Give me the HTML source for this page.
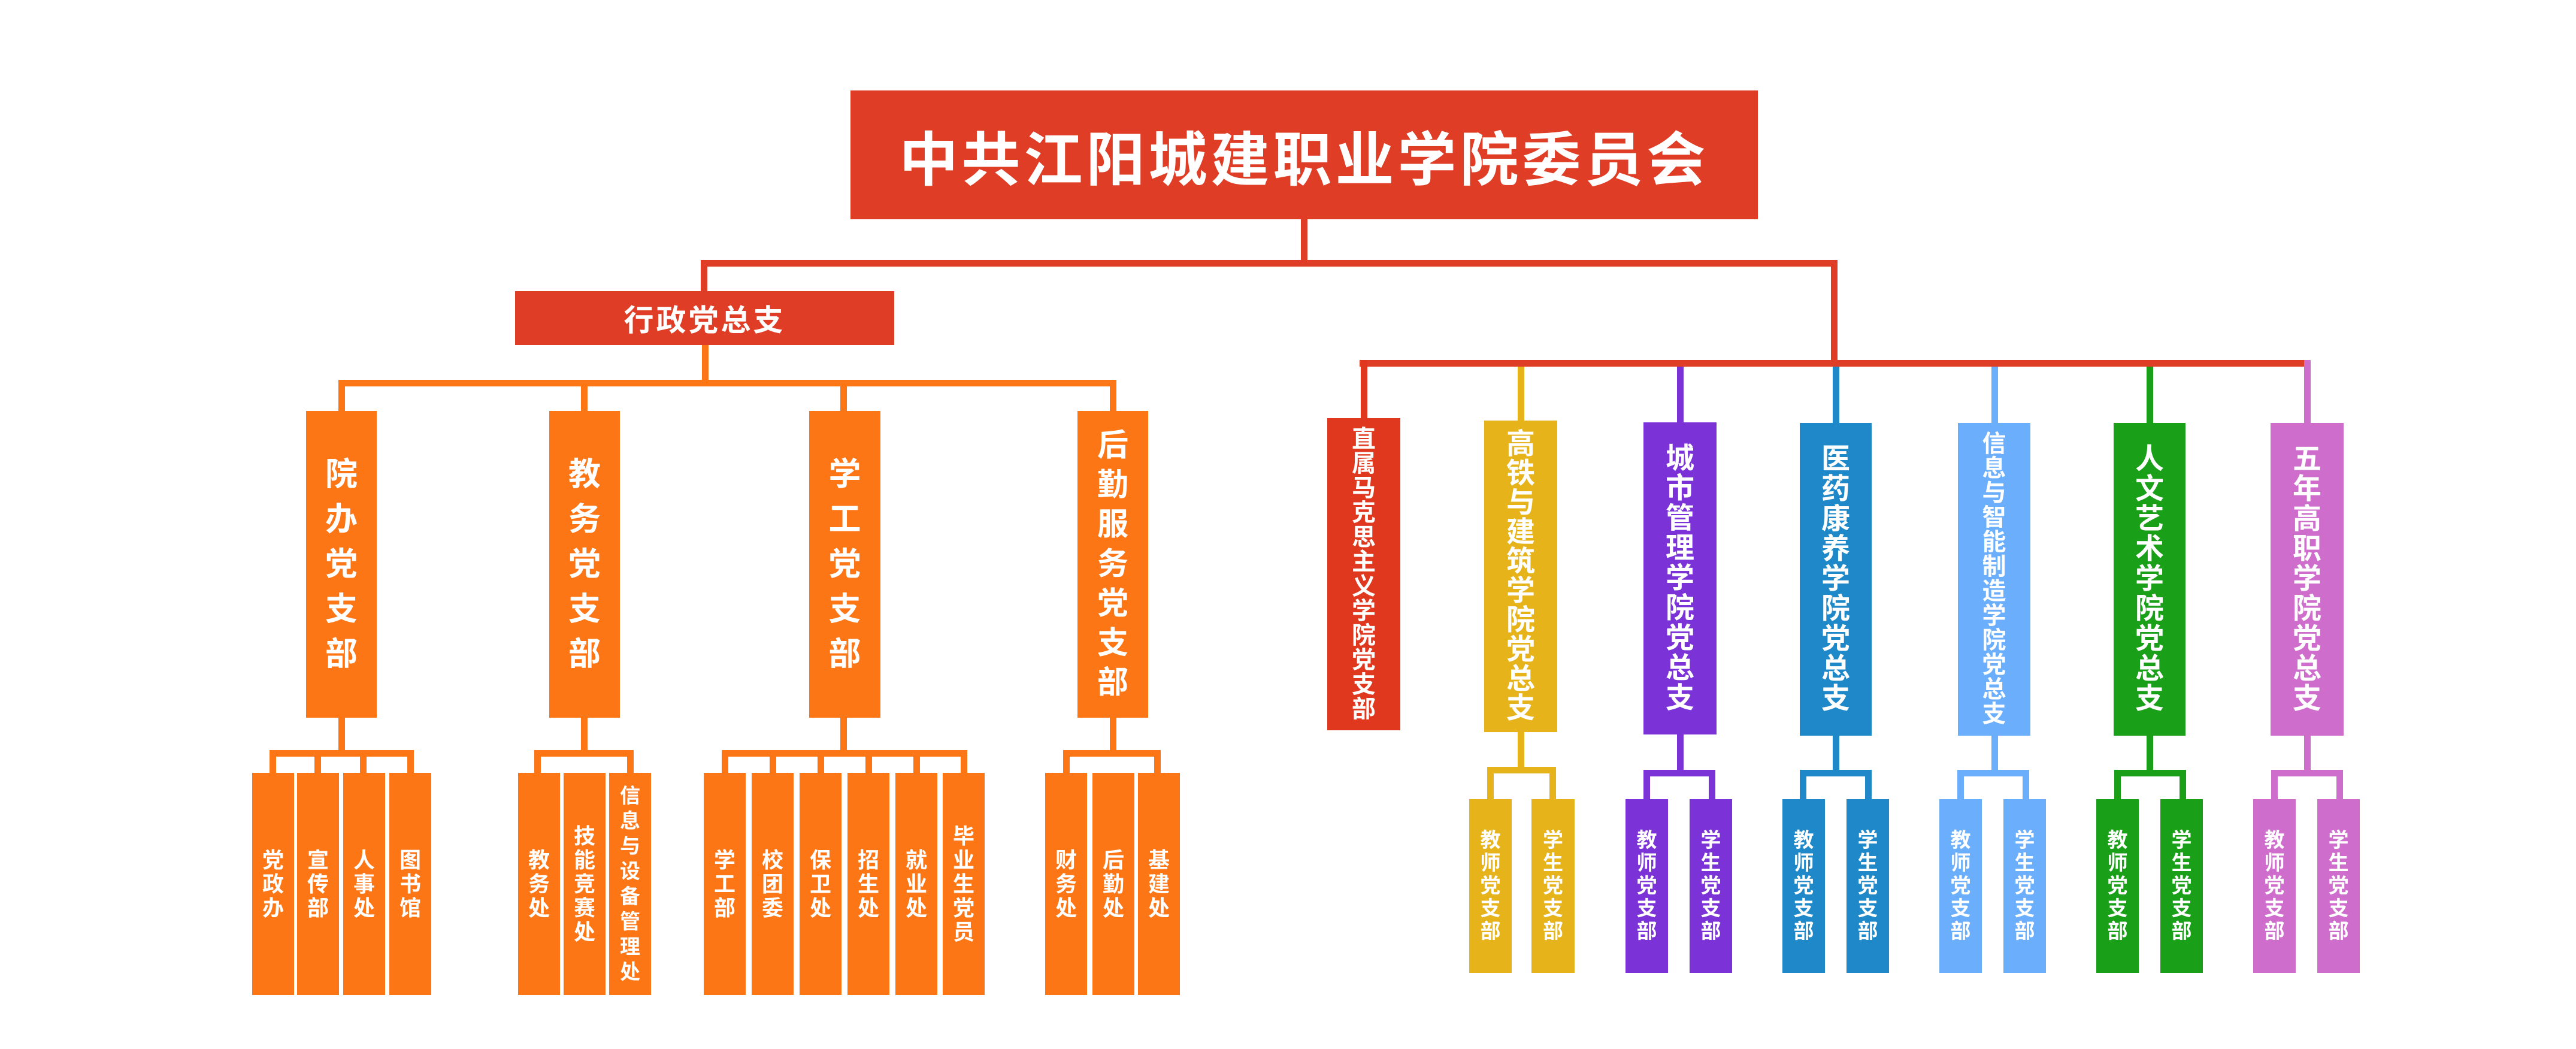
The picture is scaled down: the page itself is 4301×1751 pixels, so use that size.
<!DOCTYPE html>
<html><head><meta charset="utf-8"><style>
body{margin:0;width:4301px;height:1751px;background:#fff;position:relative;overflow:hidden;font-family:"Liberation Sans","Noto Sans CJK SC",sans-serif}
div{position:absolute;box-sizing:border-box}
.t{display:flex;align-items:center;justify-content:center;text-align:center;color:#fff;font-weight:bold}
.o{background:#fd7616}.r{background:#df3d25}
.y{background:#e6b31a}.p{background:#7b33d8}.bl{background:#1e88c8}.lb{background:#6aaefc}.g{background:#1a9f18}.pk{background:#cf6dcd}.rr{background:#e0371f}
.lc{font-size:36px;line-height:40px}
.rc{font-size:34px;line-height:38px}
.nd{font-size:48px}
</style></head><body>
<!-- top -->
<div class="t r" style="left:1420px;top:151px;width:1515px;height:215px;font-size:98px;letter-spacing:6px">中共江阳城建职业学院委员会</div>
<div class="r" style="left:2172px;top:366px;width:11px;height:79px"></div>
<div class="r" style="left:1170px;top:434px;width:1898px;height:11px"></div>
<div class="r" style="left:1170px;top:434px;width:11px;height:53px"></div>
<div class="t r" style="left:860px;top:486px;width:633px;height:90px;font-size:50px;letter-spacing:4px">行政党总支</div>
<!-- left branch -->
<div class="o" style="left:1172px;top:576px;width:11px;height:64px"></div>
<div class="o" style="left:565px;top:634px;width:1298px;height:11px"></div>
<div class="o" style="left:565px;top:634px;width:11px;height:52px"></div>
<div class="o" style="left:970px;top:634px;width:11px;height:52px"></div>
<div class="o" style="left:1403px;top:634px;width:11px;height:52px"></div>
<div class="o" style="left:1853px;top:634px;width:11px;height:52px"></div>
<div class="t o" style="left:511px;top:686px;width:118px;height:512px;font-size:54px;line-height:75px">院<br>办<br>党<br>支<br>部</div>
<div class="t o" style="left:917px;top:686px;width:118px;height:512px;font-size:54px;line-height:75px">教<br>务<br>党<br>支<br>部</div>
<div class="t o" style="left:1351px;top:686px;width:119px;height:512px;font-size:54px;line-height:75px">学<br>工<br>党<br>支<br>部</div>
<div class="t o" style="left:1799px;top:686px;width:118px;height:512px;font-size:52px;line-height:66px">后<br>勤<br>服<br>务<br>党<br>支<br>部</div>
<!-- group1 -->
<div class="o" style="left:565px;top:1198px;width:11px;height:62px"></div>
<div class="o" style="left:450px;top:1252px;width:241px;height:11px"></div>
<div class="o" style="left:450px;top:1252px;width:11px;height:40px"></div>
<div class="o" style="left:525px;top:1252px;width:11px;height:40px"></div>
<div class="o" style="left:601px;top:1252px;width:11px;height:40px"></div>
<div class="o" style="left:680px;top:1252px;width:11px;height:40px"></div>
<div class="t o lc" style="left:421px;top:1290px;width:70px;height:371px">党<br>政<br>办</div>
<div class="t o lc" style="left:496px;top:1290px;width:70px;height:371px">宣<br>传<br>部</div>
<div class="t o lc" style="left:573px;top:1290px;width:70px;height:371px">人<br>事<br>处</div>
<div class="t o lc" style="left:650px;top:1290px;width:70px;height:371px">图<br>书<br>馆</div>
<!-- group2 -->
<div class="o" style="left:970px;top:1198px;width:11px;height:62px"></div>
<div class="o" style="left:892px;top:1252px;width:166px;height:11px"></div>
<div class="o" style="left:892px;top:1252px;width:11px;height:40px"></div>
<div class="o" style="left:1047px;top:1252px;width:11px;height:40px"></div>
<div class="t o lc" style="left:865px;top:1290px;width:70px;height:371px">教<br>务<br>处</div>
<div class="t o lc" style="left:941px;top:1290px;width:70px;height:371px">技<br>能<br>竞<br>赛<br>处</div>
<div class="t o lc" style="left:1017px;top:1290px;width:70px;height:371px;font-size:34px;line-height:42px">信<br>息<br>与<br>设<br>备<br>管<br>理<br>处</div>
<!-- group3 -->
<div class="o" style="left:1403px;top:1198px;width:11px;height:62px"></div>
<div class="o" style="left:1205px;top:1252px;width:410px;height:11px"></div>
<div class="o" style="left:1205px;top:1252px;width:11px;height:40px"></div>
<div class="o" style="left:1285px;top:1252px;width:11px;height:40px"></div>
<div class="o" style="left:1365px;top:1252px;width:11px;height:40px"></div>
<div class="o" style="left:1445px;top:1252px;width:11px;height:40px"></div>
<div class="o" style="left:1525px;top:1252px;width:11px;height:40px"></div>
<div class="o" style="left:1604px;top:1252px;width:11px;height:40px"></div>
<div class="t o lc" style="left:1175px;top:1290px;width:70px;height:371px">学<br>工<br>部</div>
<div class="t o lc" style="left:1255px;top:1290px;width:70px;height:371px">校<br>团<br>委</div>
<div class="t o lc" style="left:1335px;top:1290px;width:70px;height:371px">保<br>卫<br>处</div>
<div class="t o lc" style="left:1415px;top:1290px;width:70px;height:371px">招<br>生<br>处</div>
<div class="t o lc" style="left:1495px;top:1290px;width:70px;height:371px">就<br>业<br>处</div>
<div class="t o lc" style="left:1574px;top:1290px;width:70px;height:371px">毕<br>业<br>生<br>党<br>员</div>
<!-- group4 -->
<div class="o" style="left:1853px;top:1198px;width:11px;height:62px"></div>
<div class="o" style="left:1775px;top:1252px;width:163px;height:11px"></div>
<div class="o" style="left:1775px;top:1252px;width:11px;height:40px"></div>
<div class="o" style="left:1927px;top:1252px;width:11px;height:40px"></div>
<div class="t o lc" style="left:1745px;top:1290px;width:70px;height:371px">财<br>务<br>处</div>
<div class="t o lc" style="left:1824px;top:1290px;width:70px;height:371px">后<br>勤<br>处</div>
<div class="t o lc" style="left:1900px;top:1290px;width:70px;height:371px">基<br>建<br>处</div>
<!-- right branch -->
<div class="r" style="left:3057px;top:434px;width:11px;height:178px"></div>
<div class="r" style="left:2270px;top:601px;width:1587px;height:11px"></div>
<div class="rr" style="left:2272px;top:601px;width:11px;height:98px"></div>
<div class="y" style="left:2534px;top:612px;width:11px;height:90px"></div>
<div class="p" style="left:2800px;top:612px;width:11px;height:93px"></div>
<div class="bl" style="left:3060px;top:612px;width:11px;height:94px"></div>
<div class="lb" style="left:3325px;top:612px;width:11px;height:94px"></div>
<div class="g" style="left:3584px;top:612px;width:11px;height:94px"></div>
<div class="pk" style="left:3847px;top:601px;width:11px;height:105px"></div>

<div class="t rr" style="left:2216px;top:698px;width:122px;height:521px;font-size:40px;line-height:41px">直<br>属<br>马<br>克<br>思<br>主<br>义<br>学<br>院<br>党<br>支<br>部</div>
<div class="t y nd" style="left:2478px;top:702px;width:122px;height:520px;line-height:49px">高<br>铁<br>与<br>建<br>筑<br>学<br>院<br>党<br>总<br>支</div>
<div class="t p nd" style="left:2744px;top:705px;width:122px;height:521px;line-height:50px">城<br>市<br>管<br>理<br>学<br>院<br>党<br>总<br>支</div>
<div class="t bl nd" style="left:3005px;top:706px;width:120px;height:522px;line-height:50px">医<br>药<br>康<br>养<br>学<br>院<br>党<br>总<br>支</div>
<div class="t lb" style="left:3269px;top:706px;width:121px;height:522px;font-size:40px;line-height:41px">信<br>息<br>与<br>智<br>能<br>制<br>造<br>学<br>院<br>党<br>总<br>支</div>
<div class="t g nd" style="left:3529px;top:706px;width:120px;height:522px;line-height:50px">人<br>文<br>艺<br>术<br>学<br>院<br>党<br>总<br>支</div>
<div class="t pk nd" style="left:3791px;top:706px;width:122px;height:522px;line-height:50px">五<br>年<br>高<br>职<br>学<br>院<br>党<br>总<br>支</div>

<!-- right subs -->
<div class="y" style="left:2534px;top:1222px;width:11px;height:65px"></div>
<div class="y" style="left:2483px;top:1280px;width:115px;height:11px"></div>
<div class="y" style="left:2483px;top:1280px;width:11px;height:55px"></div>
<div class="y" style="left:2587px;top:1280px;width:11px;height:55px"></div>
<div class="t y rc" style="left:2453px;top:1334px;width:71px;height:290px">教<br>师<br>党<br>支<br>部</div>
<div class="t y rc" style="left:2557px;top:1334px;width:72px;height:290px">学<br>生<br>党<br>支<br>部</div>

<div class="p" style="left:2800px;top:1226px;width:11px;height:65px"></div>
<div class="p" style="left:2744px;top:1285px;width:120px;height:11px"></div>
<div class="p" style="left:2744px;top:1285px;width:11px;height:50px"></div>
<div class="p" style="left:2853px;top:1285px;width:11px;height:50px"></div>
<div class="t p rc" style="left:2714px;top:1334px;width:71px;height:290px">教<br>师<br>党<br>支<br>部</div>
<div class="t p rc" style="left:2821px;top:1334px;width:71px;height:290px">学<br>生<br>党<br>支<br>部</div>

<div class="bl" style="left:3060px;top:1228px;width:11px;height:63px"></div>
<div class="bl" style="left:3005px;top:1285px;width:120px;height:11px"></div>
<div class="bl" style="left:3005px;top:1285px;width:11px;height:50px"></div>
<div class="bl" style="left:3114px;top:1285px;width:11px;height:50px"></div>
<div class="t bl rc" style="left:2976px;top:1334px;width:71px;height:290px">教<br>师<br>党<br>支<br>部</div>
<div class="t bl rc" style="left:3083px;top:1334px;width:71px;height:290px">学<br>生<br>党<br>支<br>部</div>

<div class="lb" style="left:3325px;top:1228px;width:11px;height:63px"></div>
<div class="lb" style="left:3268px;top:1285px;width:120px;height:11px"></div>
<div class="lb" style="left:3268px;top:1285px;width:11px;height:50px"></div>
<div class="lb" style="left:3377px;top:1285px;width:11px;height:50px"></div>
<div class="t lb rc" style="left:3238px;top:1334px;width:71px;height:290px">教<br>师<br>党<br>支<br>部</div>
<div class="t lb rc" style="left:3345px;top:1334px;width:71px;height:290px">学<br>生<br>党<br>支<br>部</div>

<div class="g" style="left:3584px;top:1228px;width:11px;height:63px"></div>
<div class="g" style="left:3530px;top:1285px;width:120px;height:11px"></div>
<div class="g" style="left:3530px;top:1285px;width:11px;height:50px"></div>
<div class="g" style="left:3639px;top:1285px;width:11px;height:50px"></div>
<div class="t g rc" style="left:3500px;top:1334px;width:71px;height:290px">教<br>师<br>党<br>支<br>部</div>
<div class="t g rc" style="left:3607px;top:1334px;width:71px;height:290px">学<br>生<br>党<br>支<br>部</div>

<div class="pk" style="left:3847px;top:1228px;width:11px;height:63px"></div>
<div class="pk" style="left:3792px;top:1285px;width:120px;height:11px"></div>
<div class="pk" style="left:3792px;top:1285px;width:11px;height:50px"></div>
<div class="pk" style="left:3901px;top:1285px;width:11px;height:50px"></div>
<div class="t pk rc" style="left:3762px;top:1334px;width:71px;height:290px">教<br>师<br>党<br>支<br>部</div>
<div class="t pk rc" style="left:3869px;top:1334px;width:71px;height:290px">学<br>生<br>党<br>支<br>部</div>
</body></html>
